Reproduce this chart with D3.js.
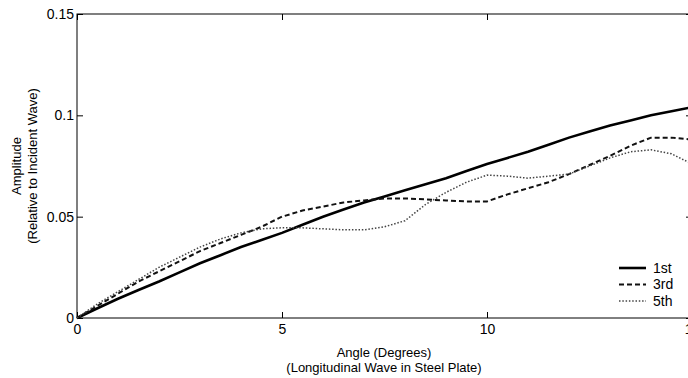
<!DOCTYPE html>
<meta charset="utf-8">
<body style="margin:0;background:#fff">
<svg width="688" height="378"></svg>
<script src="https://cdn.jsdelivr.net/npm/d3@7/dist/d3.min.js"></script>
<script>

// angle (degrees) and amplitude of each order
var angles = [0,0.5,1,1.5,2,2.5,3,3.5,4,4.5,5,5.5,6,6.5,7,7.5,8,8.5,9,9.5,10,10.5,11,11.5,12,12.5,13,13.5,14,14.5,15];
var first  = [0,0.0048,0.0095,0.0138,0.018,0.0225,0.027,0.031,0.035,0.0385,0.042,0.046,0.050,0.0535,0.057,0.060,0.063,0.066,0.069,0.0725,0.076,0.079,0.082,0.0855,0.089,0.092,0.095,0.0975,0.100,0.102,0.104];
var third  = [0,0.006,0.012,0.018,0.023,0.028,0.033,0.037,0.041,0.045,0.050,0.053,0.055,0.057,0.058,0.059,0.059,0.0585,0.058,0.0575,0.0575,0.061,0.064,0.067,0.071,0.0755,0.080,0.085,0.089,0.089,0.088];
var fifth  = [0,0.007,0.013,0.019,0.025,0.030,0.035,0.039,0.042,0.044,0.0445,0.0445,0.044,0.0435,0.0435,0.045,0.048,0.056,0.062,0.067,0.0705,0.070,0.069,0.070,0.071,0.075,0.079,0.082,0.083,0.081,0.076];

var series = [
  {name: "1st", values: first, width: 2.6, dash: null, color: "#000"},
  {name: "3rd", values: third, width: 2, dash: "5,3", color: "#111"},
  {name: "5th", values: fifth, width: 1.5, dash: "1.5,1.8", color: "#444"}
];
var xTicks = [0, 5, 10, 15];
var yTicks = [0, 0.05, 0.1, 0.15];

var font = "Arial, 'Liberation Sans', sans-serif";

var svg = d3.select("svg"),
    margin = {top: 14, left: 77},
    width = 615,
    height = 304;

var x = d3.scaleLinear().domain([0, 15]).range([0, width]),
    y = d3.scaleLinear().domain([0, 0.15]).range([height, 0]);

var g = svg.append("g")
    .attr("transform", "translate(" + margin.left + "," + margin.top + ")")
    .style("font-family", font);

// box
g.append("rect")
    .attr("width", width).attr("height", height)
    .attr("fill", "none").attr("stroke", "#000").attr("stroke-width", 1);

// axes, ticks pointing inward like matlab
g.append("g")
    .attr("transform", "translate(0," + height + ")")
    .call(d3.axisBottom(x).tickValues(xTicks).tickSizeInner(-6).tickSizeOuter(0).tickPadding(6).tickFormat(d3.format("")));
g.append("g")
    .call(d3.axisLeft(y).tickValues(yTicks).tickSizeInner(-6).tickSizeOuter(0).tickPadding(3).tickFormat(function(d) { return d === 0 ? "0" : String(+d.toFixed(2)); }));
g.append("g")
    .call(d3.axisTop(x).tickValues(xTicks).tickSizeInner(-6).tickSizeOuter(0).tickFormat(""));
g.append("g")
    .attr("transform", "translate(" + width + ",0)")
    .call(d3.axisRight(y).tickValues(yTicks).tickSizeInner(-6).tickSizeOuter(0).tickFormat(""));

g.selectAll(".domain").remove();
g.selectAll(".tick line").attr("stroke", "#000");
g.selectAll(".tick text").attr("fill", "#000").style("font-size", "14px").style("font-family", font);

// lines
var line = d3.line()
    .x(function(d, i) { return x(angles[i]); })
    .y(function(d) { return y(d); });

series.forEach(function(s) {
  g.append("path")
      .datum(s.values)
      .attr("fill", "none")
      .attr("stroke", s.color)
      .attr("stroke-width", s.width)
      .attr("stroke-dasharray", s.dash)
      .attr("d", line);
});

// legend
var legend = g.selectAll(".legend")
    .data(series)
  .enter().append("g")
    .attr("transform", function(d, i) { return "translate(542," + (254 + i * 16.5) + ")"; });
legend.append("line")
    .attr("x1", 0).attr("x2", 27)
    .attr("stroke", function(d) { return d.color; })
    .attr("stroke-width", function(d) { return d.width; })
    .attr("stroke-dasharray", function(d) { return d.dash; });
legend.append("text")
    .attr("x", 34).attr("dy", "0.35em")
    .style("font-size", "14px")
    .text(function(d) { return d.name; });

// axis titles
function title(txt, tr) {
  svg.append("text")
      .attr("transform", tr)
      .attr("text-anchor", "middle")
      .style("font-family", font)
      .style("font-size", "13px")
      .text(txt);
}
title("Angle (Degrees)", "translate(384,357)");
title("(Longitudinal Wave in Steel Plate)", "translate(384,372)");
title("Amplitude", "translate(21,166) rotate(-90)");
title("(Relative to Incident Wave)", "translate(37,166) rotate(-90)");

</script>
</body>
